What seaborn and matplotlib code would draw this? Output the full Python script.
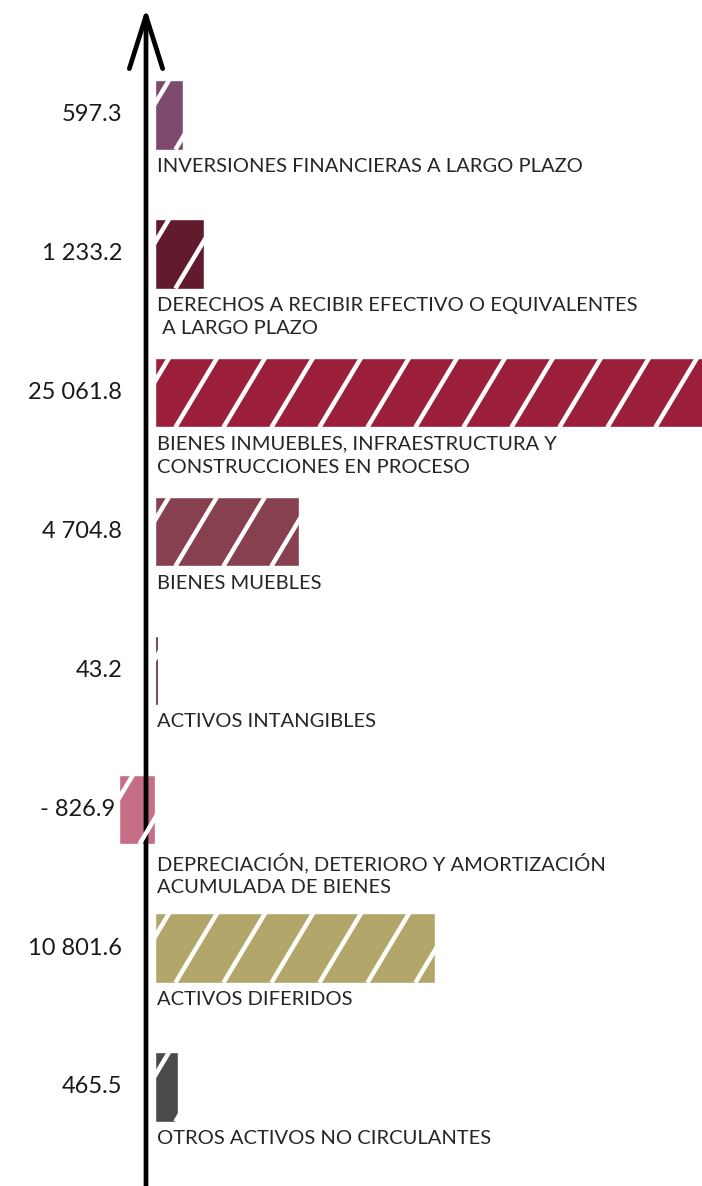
import numpy as np
import pandas as pd
import matplotlib
matplotlib.use("Agg")
import matplotlib.pyplot as plt
from matplotlib.lines import Line2D
from matplotlib.transforms import IdentityTransform
import seaborn as sns

categories = [
    "INVERSIONES FINANCIERAS A LARGO PLAZO",
    "DERECHOS A RECIBIR EFECTIVO O EQUIVALENTES\n A LARGO PLAZO",
    "BIENES INMUEBLES, INFRAESTRUCTURA Y\nCONSTRUCCIONES EN PROCESO",
    "BIENES MUEBLES",
    "ACTIVOS INTANGIBLES",
    "DEPRECIACIÓN, DETERIORO Y AMORTIZACIÓN\nACUMULADA DE BIENES",
    "ACTIVOS DIFERIDOS",
    "OTROS ACTIVOS NO CIRCULANTES",
]
values = [597.3, 1233.2, 25061.8, 4704.8, 43.2, -826.9, 10801.6, 465.5]
value_labels = ["597.3", "1 233.2", "25 061.8", "4 704.8", "43.2", "- 826.9", "10 801.6", "465.5"]
colors = ["#7d4a6e", "#621a2e", "#9b1e3b", "#86404f", "#5e1f47", "#c66e85", "#b2a66b", "#4a4a4d"]

df = pd.DataFrame({"cat": categories, "value": values})

sns.set_theme(style="white")
plt.rcParams["font.family"] = ["Lato", "DejaVu Sans"]

fig = plt.figure(figsize=(7.02, 11.86), dpi=100)
ax = fig.add_axes([0, 0, 1, 1])

sns.barplot(df, x="value", y="cat", hue="cat", palette=colors, legend=False,
            orient="h", width=0.5, ax=ax, saturation=1)

# compressed (power) scale, like the hand-drawn original
p = 0.8
fwd = lambda v: np.sign(v) * np.abs(v) ** p
inv = lambda t: np.sign(t) * np.abs(t) ** (1 / p)
ax.set_xscale("function", functions=(fwd, inv))
k = 280 / fwd(10801.6)  # pixels per scaled unit
ax.set_xlim(inv(-155 / k), inv((702 - 155) / k))
ax.set_ylim(7.713, -0.828)
ax.axis("off")

# hand-drawn style white stripes, clipped to each bar
for bar in ax.patches:
    bb = bar.get_window_extent()
    h = bb.height
    shift = 0.6 * h
    x = bb.x0 - shift + 14
    while x < bb.x1 + 5:
        ln = Line2D([x, x + shift], [bb.y0, bb.y1], color="white", lw=3.2,
                    transform=IdentityTransform(), solid_capstyle="butt")
        ln.set_clip_path(bar)
        fig.add_artist(ln)
        x += 48

# value labels on the left, category labels under the bars
for i, (v, lab, cat) in enumerate(zip(values, value_labels, categories)):
    if v >= 0:
        ax.annotate(lab, xy=(0, i), xytext=(-33, 0), textcoords="offset pixels",
                    ha="right", va="center", fontsize=17, color="#1a1a1a")
    else:
        ax.annotate(lab, xy=(v, i), xytext=(-4, 0), textcoords="offset pixels",
                    ha="right", va="center", fontsize=17, color="#1a1a1a")
    ax.annotate(cat, xy=(0, i + 0.31), xytext=(2, 0), textcoords="offset pixels",
                ha="left", va="top", fontsize=14.5, color="#262626", linespacing=1.45)

# vertical arrow axis
ax_x = inv(-9 / k)
ax.annotate("", xy=(ax_x, -0.77), xytext=(ax_x, 7.713),
            arrowprops=dict(arrowstyle="->,head_length=1.9,head_width=0.6",
                            lw=3.4, color="black", mutation_scale=20,
                            shrinkA=0, shrinkB=0))

fig.savefig("out.png", dpi=100, facecolor="white")
